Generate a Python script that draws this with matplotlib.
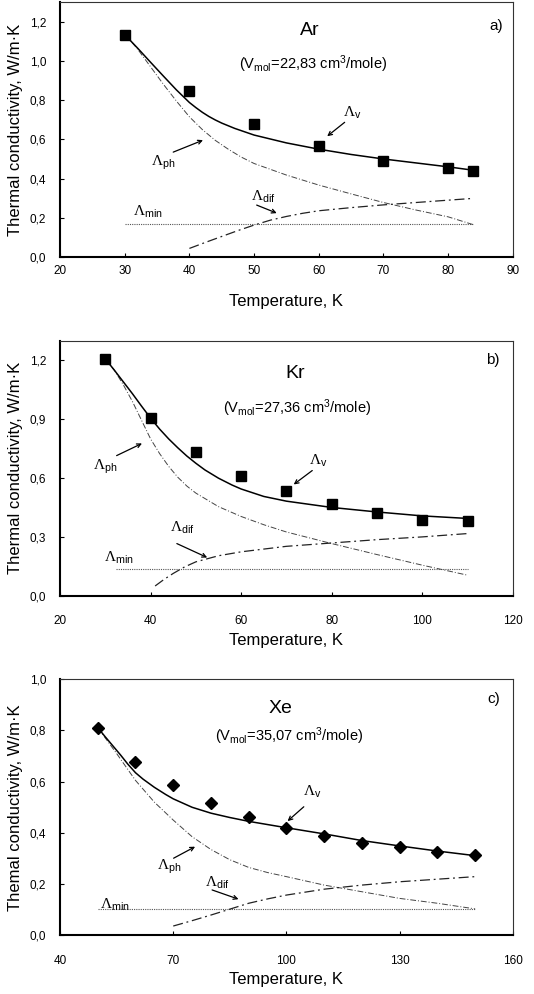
import matplotlib
matplotlib.use("Agg")
import matplotlib.pyplot as plt
from matplotlib.ticker import FuncFormatter

plt.rcParams['font.family'] = ['Liberation Sans', 'DejaVu Sans']
plt.rcParams['mathtext.fontset'] = 'custom'
plt.rcParams['mathtext.rm'] = 'Liberation Serif'
plt.rcParams['mathtext.sf'] = 'Liberation Sans'
plt.rcParams['mathtext.it'] = 'Liberation Sans'

# ---------------- Ar ----------------
ar_T_exp = [30, 40, 50, 60, 70, 80, 83.8]
ar_exp = [1.134, 0.847, 0.677, 0.565, 0.489, 0.452, 0.441]
ar_T_v = [30, 32, 34, 36, 38, 40, 41, 42, 43, 44, 45, 47, 50, 55, 60, 65, 70, 75, 80, 83.8]
ar_v = [1.134, 1.065, 0.993, 0.922, 0.852, 0.788, 0.762, 0.738, 0.717, 0.699, 0.683, 0.656,
        0.622, 0.582, 0.55, 0.523, 0.5, 0.48, 0.46, 0.443]
ar_T_ph = [30, 31, 32, 34, 36, 38, 40, 42, 44, 46, 48, 50, 55, 60, 65, 70, 75, 80, 83.8]
ar_ph = [1.134, 1.10, 1.06, 0.97, 0.88, 0.795, 0.715, 0.65, 0.595, 0.55, 0.51, 0.477,
         0.418, 0.367, 0.322, 0.278, 0.24, 0.205, 0.166]
ar_T_dif = [40, 42.5, 45, 47.5, 50, 52.5, 55, 57.5, 60, 65, 70, 75, 80, 83.8]
ar_dif = [0.044, 0.075, 0.105, 0.135, 0.163, 0.188, 0.207, 0.223, 0.236, 0.252, 0.266,
          0.278, 0.29, 0.299]
ar_T_min = [30, 83.8]
ar_min = [0.168, 0.168]

# ---------------- Kr ----------------
kr_T_exp = [30, 40, 50, 60, 70, 80, 90, 100, 110]
kr_exp = [1.208, 0.906, 0.731, 0.613, 0.534, 0.471, 0.424, 0.389, 0.384]
kr_T_v = [30, 32, 34, 36, 38, 40, 42, 44, 46, 48, 50, 52, 55, 58, 60, 65, 70, 80, 90, 100, 110]
kr_v = [1.208, 1.15, 1.09, 1.03, 0.967, 0.906, 0.85, 0.80, 0.755, 0.713, 0.676, 0.642,
        0.60, 0.565, 0.545, 0.507, 0.483, 0.451, 0.428, 0.408, 0.395]
kr_T_ph = [30, 32, 34, 36, 38, 40, 42, 44, 46, 48, 50, 55, 60, 65, 70, 80, 90, 100, 110]
kr_ph = [1.208, 1.15, 1.075, 0.99, 0.895, 0.80, 0.725, 0.66, 0.605, 0.56, 0.524, 0.455,
         0.405, 0.363, 0.326, 0.267, 0.211, 0.157, 0.106]
kr_T_dif = [41, 43, 45, 47.5, 50, 55, 60, 70, 80, 90, 100, 110]
kr_dif = [0.051, 0.085, 0.115, 0.148, 0.174, 0.205, 0.225, 0.253, 0.270, 0.287, 0.301, 0.318]
kr_T_min = [32.4, 110]
kr_min = [0.135, 0.135]

# ---------------- Xe ----------------
xe_T_exp = [50, 60, 70, 80, 90, 100, 110, 120, 130, 140, 150]
xe_exp = [0.811, 0.676, 0.587, 0.516, 0.461, 0.420, 0.389, 0.362, 0.346, 0.327, 0.314]
xe_T_v = [50, 52, 54, 56, 58, 60, 62, 65, 68, 70, 75, 80, 85, 90, 100, 110, 120, 130, 140, 150]
xe_v = [0.811, 0.775, 0.74, 0.705, 0.668, 0.635, 0.61, 0.578, 0.55, 0.533, 0.5, 0.477,
        0.46, 0.445, 0.42, 0.396, 0.37, 0.349, 0.329, 0.311]
xe_T_ph = [50, 55, 60, 65, 70, 75, 80, 85, 90, 95, 100, 110, 120, 130, 140, 150]
xe_ph = [0.811, 0.71, 0.605, 0.52, 0.45, 0.385, 0.335, 0.295, 0.265, 0.245, 0.229, 0.196,
         0.170, 0.144, 0.125, 0.103]
xe_T_dif = [70, 75, 80, 85, 90, 95, 100, 110, 120, 130, 140, 150]
xe_dif = [0.036, 0.057, 0.079, 0.102, 0.125, 0.142, 0.157, 0.18, 0.196, 0.209, 0.219, 0.229]
xe_T_min = [50, 150]
xe_min = [0.103, 0.103]

fig = plt.figure(figsize=(5.34, 9.94), dpi=100)

def comma(v, pos, nd=1):
    return f"{v:.{nd}f}".replace('.', ',')

def setup(ax, xlim, xticks, ylim, yticks, ylabel, xpad):
    ax.set_xlim(*xlim)
    ax.set_ylim(*ylim)
    ax.set_xticks(xticks)
    ax.set_yticks(yticks)
    ax.yaxis.set_major_formatter(FuncFormatter(lambda v, p: comma(v, p)))
    ax.tick_params(direction='in', length=3, width=0.8, labelsize=8.5)
    ax.tick_params(axis='y', pad=10)
    ax.tick_params(axis='x', pad=xpad)
    for s in ['left', 'bottom']:
        ax.spines[s].set_linewidth(1.5)
        ax.spines[s].set_color('black')
    for s in ['top', 'right']:
        ax.spines[s].set_linewidth(0.8)
        ax.spines[s].set_color('#333333')
    ax.set_xlabel('Temperature, K', fontsize=12)
    ax.set_ylabel(ylabel, fontsize=12)
    ax.xaxis.set_label_coords(0.5, -37 / 256, transform=ax.transAxes)
    ax.yaxis.set_label_coords(-0.082, 0.5)

def curves(ax, Tv, v, Tph, ph, Tdif, dif, Tmin, mn, Te, e, marker, ms):
    ax.plot(Tmin, mn, color='#555555', lw=0.8, ls=(0, (1, 1)))
    ax.plot(Tph, ph, color='#444444', lw=0.7, ls=(0, (6, 2, 1, 2)))
    ax.plot(Tdif, dif, color='#222222', lw=0.9, ls=(0, (8, 3, 1.5, 3)))
    ax.plot(Tv, v, color='black', lw=1.1, ls='-')
    ax.plot(Te, e, ls='none', marker=marker, color='black', ms=ms)

def lab(ax, txt, xy, size=11):
    ax.text(xy[0], xy[1], txt, fontsize=size, ha='center', va='center')

def arrow(ax, p0, p1):
    ax.annotate('', xy=p1, xytext=p0,
                arrowprops=dict(arrowstyle='->', color='black', lw=0.9,
                                shrinkA=0, shrinkB=0, mutation_scale=7))

LV = r'$\Lambda_{\mathsf{v}}$'
LPH = r'$\Lambda_{\mathsf{ph}}$'
LDIF = r'$\Lambda_{\mathsf{dif}}$'
LMIN = r'$\Lambda_{\mathsf{min}}$'

# Panel a
axa = fig.add_axes([0.1124, 0.7414, 0.848, 0.2565])
setup(axa, (20, 90), [20, 30, 40, 50, 60, 70, 80, 90], (0, 1.3),
      [0, 0.2, 0.4, 0.6, 0.8, 1.0, 1.2], 'Thermal conductivity, W/m·K', 6)
curves(axa, ar_T_v, ar_v, ar_T_ph, ar_ph, ar_T_dif, ar_dif, ar_T_min, ar_min,
       ar_T_exp, ar_exp, 's', 7)
lab(axa, 'Ar', (58.6, 1.156), 14)
lab(axa, 'a)', (87.5, 1.18), 11)
lab(axa, r'(V$_{\mathsf{mol}}$=22,83 cm$^{\mathsf{3}}$/mole)', (59.1, 0.985), 10.5)
lab(axa, LV, (65.1, 0.733))
arrow(axa, (64.0, 0.687), (61.3, 0.616))
lab(axa, LPH, (35.9, 0.479))
arrow(axa, (37.5, 0.535), (42.1, 0.596))
lab(axa, LDIF, (51.4, 0.305))
arrow(axa, (50.4, 0.265), (53.5, 0.224))
lab(axa, LMIN, (33.6, 0.229))

# Panel b
axb = fig.add_axes([0.1124, 0.4004, 0.848, 0.2568])
setup(axb, (20, 120), [20, 40, 60, 80, 100, 120], (0, 1.3),
      [0, 0.3, 0.6, 0.9, 1.2], 'Thermal conductivity, W/m·K', 14)
curves(axb, kr_T_v, kr_v, kr_T_ph, kr_ph, kr_T_dif, kr_dif, kr_T_min, kr_min,
       kr_T_exp, kr_exp, 's', 7)
lab(axb, 'Kr', (72.0, 1.133), 14)
lab(axb, 'b)', (115.5, 1.2), 11)
lab(axb, r'(V$_{\mathsf{mol}}$=27,36 cm$^{\mathsf{3}}$/mole)', (72.4, 0.956), 10.5)
lab(axb, LV, (77.1, 0.689))
arrow(axb, (75.7, 0.639), (71.6, 0.568))
lab(axb, LPH, (30.0, 0.66))
arrow(axb, (32.5, 0.715), (38.1, 0.777))
lab(axb, LDIF, (47.1, 0.348))
arrow(axb, (45.8, 0.267), (52.5, 0.196))
lab(axb, LMIN, (32.9, 0.196))

# Panel c
axc = fig.add_axes([0.1124, 0.0591, 0.848, 0.2575])
setup(axc, (40, 160), [40, 70, 100, 130, 160], (0, 1.0),
      [0, 0.2, 0.4, 0.6, 0.8, 1.0], 'Themal conductivity, W/m·K', 14)
curves(axc, xe_T_v, xe_v, xe_T_ph, xe_ph, xe_T_dif, xe_dif, xe_T_min, xe_min,
       xe_T_exp, xe_exp, 'D', 6)
lab(axc, 'Xe', (98.4, 0.887), 14)
lab(axc, 'c)', (154.9, 0.922), 11)
lab(axc, r'(V$_{\mathsf{mol}}$=35,07 cm$^{\mathsf{3}}$/mole)', (100.6, 0.776), 10.5)
lab(axc, LV, (106.8, 0.561))
arrow(axc, (104.6, 0.502), (100.3, 0.446))
lab(axc, LPH, (68.9, 0.268))
arrow(axc, (70.1, 0.301), (75.8, 0.346))
lab(axc, LDIF, (81.6, 0.203))
arrow(axc, (80.3, 0.177), (87.3, 0.141))
lab(axc, LMIN, (54.6, 0.118))

fig.savefig('out.png', dpi=100)
